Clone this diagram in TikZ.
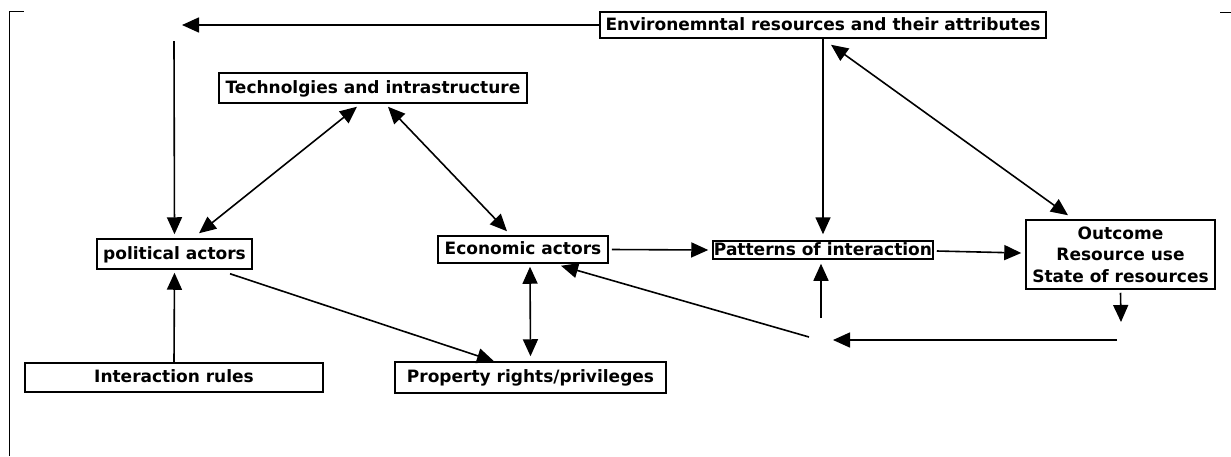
\documentclass[tikz,border=0pt]{standalone}
\usepackage{fontspec}
\setmainfont{DejaVu Sans}
\usetikzlibrary{arrows.meta,calc}
\begin{document}
\begin{tikzpicture}[x=1pt,y=-1pt,
  box/.style={draw,line width=1.5pt,inner sep=0pt,font=\fontsize{17}{21.5}\selectfont\bfseries,align=center},
  single/.style={box,text height=13pt,text depth=3pt},
  conn/.style={line width=1.6pt,-{Triangle[length=17pt,width=15pt]}},
  dconn/.style={line width=1.6pt,{Triangle[length=17pt,width=15pt]}-{Triangle[length=17pt,width=15pt]}},
  frameline/.style={line width=0.9pt}]
\useasboundingbox[fill=white] (0,0) rectangle (1231,456);
% frame fragments
\draw[frameline] (9,456) -- (9,11) -- (24,11);
\draw[frameline] (1220,12) -- (1231,12);
% nodes
\node[single,minimum width=446pt,minimum height=26pt] (env) at (823,25) {Environemntal resources and their attributes};
\node[single,minimum width=308pt,minimum height=30pt] (techno) at (373,88) {Technolgies and intrastructure};
\node[single,minimum width=155pt,minimum height=30pt] (political) at (174.5,254) {political actors};
\node[single,minimum width=170pt,minimum height=27pt] (economic) at (523,249.5) {Economic actors};
\node[single,minimum width=220pt,minimum height=18pt] (patterns) at (823,250) {Patterns of interaction};
\node[box,minimum width=189pt,minimum height=69pt] (outcome) at (1120.5,254.5) {Outcome\\Resource use\\State of resources};
\node[single,minimum width=298pt,minimum height=29pt] (interaction) at (174,377.5) {Interaction rules};
\node[single,minimum width=271pt,minimum height=31pt] (property) at (530.5,377.5) {Property rights/privileges};
% free ends
\coordinate (toptip) at (182,25);
\coordinate (vstart) at (174,41);
\coordinate (downtip) at (1121,322);
\coordinate (bstart) at (1117,340);
\coordinate (btip) at (833,340);
\coordinate (upstart) at (821,318);
\coordinate (dstart) at (809,337);
% connectors
\draw[conn] (env.west) -- (toptip);
\draw[conn] (vstart) -- ($(political.north)+(0,-4)$);
\draw[dconn] ($(techno.south)+(-16,3)$) -- ($(political.north)+(24.5,-5)$);
\draw[dconn] ($(techno.south)+(15,3)$) -- ($(economic.north)+(-16,-4)$);
\draw[conn] (env.south) -- ($(patterns.north)+(0,-6)$);
\draw[dconn] ($(env.south)+(8,6)$) -- ($(outcome.north)+(-52.5,-4)$);
\draw[conn] ($(economic.east)+(3,0)$) -- ($(patterns.west)+(-4,0)$);
\draw[conn] ($(patterns.east)+(3,1)$) -- ($(outcome.west)+(-4,-1.5)$);
\draw[conn] ($(outcome.south)+(0,3)$) -- (downtip);
\draw[conn] (bstart) -- (btip);
\draw[conn] (upstart) -- ($(patterns.south)+(-2,4)$);
\draw[conn] (dstart) -- ($(economic.south)+(38,2)$);
\draw[conn] ($(political.south)+(55.5,4)$) -- ($(property.north)+(-36.5,0)$);
\draw[conn] (interaction.north) -- ($(political.south)+(0,3)$);
\draw[dconn] ($(economic.south)+(7,3)$) -- ($(property.north)+(0,-5)$);
\end{tikzpicture}
\end{document}
